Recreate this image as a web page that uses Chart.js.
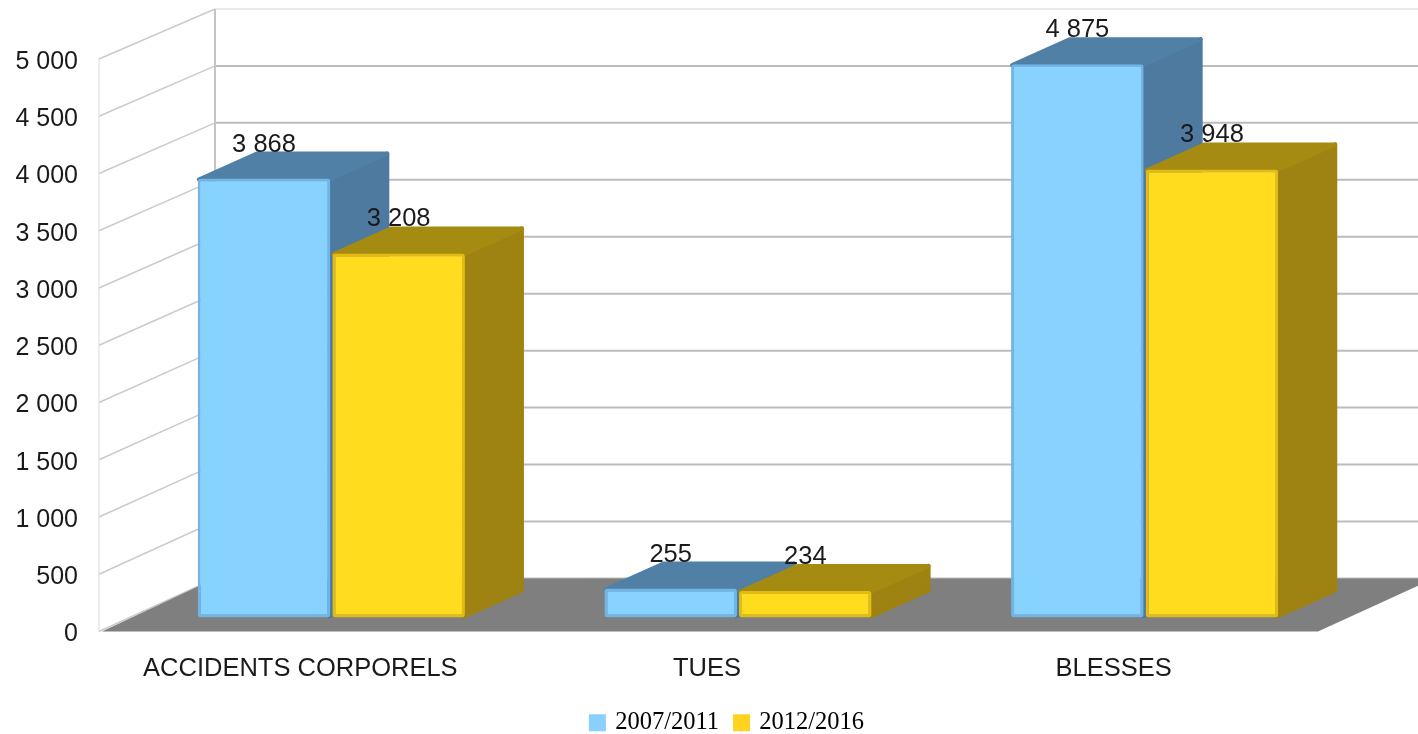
<!DOCTYPE html>
<html lang="fr">
<head>
<meta charset="utf-8">
<title>Accidents corporels, tues, blesses</title>
<script src="https://cdn.jsdelivr.net/npm/chart.js@4/dist/chart.umd.min.js"></script>
<style>
    html, body { margin: 0; padding: 0; background: #fff; }
    #wrap { width: 1418px; height: 734px; overflow: hidden; }
</style>
</head>
<body>
<div id="wrap"><canvas id="chart"></canvas></div>
<script>
// donnees
const categories = ['ACCIDENTS CORPORELS', 'TUES', 'BLESSES'];
const seriesNames = ['2007/2011', '2012/2016'];
const values2007 = [3868, 255, 4875];
const values2012 = [3208, 234, 3948];

// couleurs : face, bord, dessus, cote
const blue = { front: '#87d2ff', edge: '#6fb5e6', top: '#5180a6', side: '#4e7a9f' };
const gold = { front: '#ffdc1e', edge: '#e2bb14', top: '#a68b12', side: '#9e8212' };

// decalage de la profondeur
const wallLeft = 99;
const wallBack = 215;
const barDepthX = 58;
const barDepthY = -26;

function spaced(value) {
    return String(value).replace(/\B(?=(\d{3})+$)/g, ' ');
}

function line(ctx, x1, y1, x2, y2, color, width) {
    ctx.strokeStyle = color;
    ctx.lineWidth = width;
    ctx.beginPath();
    ctx.moveTo(x1, y1);
    ctx.lineTo(x2, y2);
    ctx.stroke();
}

function poly(ctx, pts, color) {
    ctx.fillStyle = color;
    ctx.strokeStyle = color;
    ctx.lineWidth = 4;
    ctx.lineJoin = 'round';
    ctx.beginPath();
    pts.forEach((p, i) => i ? ctx.lineTo(p[0], p[1]) : ctx.moveTo(p[0], p[1]));
    ctx.closePath();
    ctx.fill();
    ctx.stroke();
}

// parois, sol et volumes des barres
const scene3d = {
    id: 'scene3d',
    afterLayout(chart) {
        // legende decalee : elle n'est pas centree sur le canvas
        chart.legend.left += 54;
        chart.legend.right += 54;
        chart.legend.top += 11;
        chart.legend.bottom += 11;
    },
    beforeDatasetsDraw(chart) {
        const ctx = chart.ctx;
        const y = chart.scales.y;
        const back = chart.scales.yBack;
        const width = chart.width;
        const topBack = back.getPixelForValue(y.max);
        const zeroBack = back.getPixelForValue(0);
        const zeroFront = y.getPixelForValue(0);
        ctx.save();
        y.ticks.forEach((t) => {
            const fy = y.getPixelForValue(t.value);
            const by = back.getPixelForValue(t.value);
            line(ctx, wallLeft, fy, wallBack, by, '#cbcbcb', 1.5);
            line(ctx, wallBack, by, width, by, t.value === y.max ? '#ebebeb' : '#bcbcbc', 2);
        });
        line(ctx, wallLeft, y.getPixelForValue(y.max), wallLeft, zeroFront, '#d9d9d9', 1);
        line(ctx, wallBack, topBack, wallBack, zeroBack, '#c4c4c4', 2);

        ctx.fillStyle = '#7f7f7f';
        ctx.beginPath();
        ctx.moveTo(wallLeft + 3, zeroFront);
        ctx.lineTo(1318, zeroFront);
        ctx.lineTo(1318 + wallBack - wallLeft, zeroBack);
        ctx.lineTo(wallBack, zeroBack);
        ctx.closePath();
        ctx.fill();

        [blue, gold].forEach((c, i) => {
            chart.getDatasetMeta(i).data.forEach((bar) => {
                const l = bar.x - bar.width / 2 + 1;
                const r = bar.x + bar.width / 2 - 1;
                const t = bar.y + 1;
                const b = bar.base - 1;
                poly(ctx, [[r, t], [r + barDepthX, t + barDepthY], [r + barDepthX, b + barDepthY], [r, b]], c.side);
                poly(ctx, [[l, t], [l + barDepthX, t + barDepthY], [r + barDepthX, t + barDepthY], [r, t]], c.top);
            });
        });
        ctx.restore();
    },
    afterDatasetsDraw(chart) {
        const ctx = chart.ctx;
        ctx.save();
        ctx.fillStyle = '#1a1a1a';
        ctx.font = '25.5px "Liberation Sans"';
        ctx.textAlign = 'center';
        ctx.textBaseline = 'middle';
        chart.data.datasets.forEach((ds, i) => {
            chart.getDatasetMeta(i).data.forEach((bar, j) => {
                ctx.fillText(spaced(ds.data[j]), bar.x, bar.y - 34);
            });
        });
        ctx.restore();
    }
};

function makeDataset(name, data, c) {
    return {
        label: name,
        data: data,
        yAxisID: 'yBars',
        backgroundColor: c.front,
        borderColor: c.edge,
        borderWidth: 3,
        borderRadius: 3,
        borderSkipped: false,
        categoryPercentage: 0.662,
        barPercentage: 0.985
    };
}

new Chart(document.getElementById('chart'), {
    type: 'bar',
    data: {
        labels: categories,
        datasets: [
            makeDataset(seriesNames[0], values2007, blue),
            makeDataset(seriesNames[1], values2012, gold)
        ]
    },
    plugins: [scene3d],
    options: {
        responsive: true,
        maintainAspectRatio: false,
        animation: false,
        layout: { padding: { left: 0, right: 70, top: 59, bottom: 0 } },
        plugins: {
            tooltip: { enabled: false },
            legend: {
                position: 'bottom',
                labels: {
                    color: '#1a1a1a',
                    font: { family: '"Liberation Serif"', size: 24.5 },
                    boxWidth: 11,
                    boxHeight: 11,
                    padding: 17,
                    generateLabels(chart) {
                        return chart.data.datasets.map((ds, i) => ({
                            text: ds.label,
                            fillStyle: i ? '#ffd320' : '#8ad0ff',
                            strokeStyle: i ? '#ffd320' : '#8ad0ff',
                            lineWidth: 6,
                            datasetIndex: i
                        }));
                    }
                }
            }
        },
        scales: {
            x: {
                grid: { display: false },
                border: { display: false },
                afterFit(scale) { scale.height = 51; },
                ticks: {
                    color: '#1a1a1a',
                    font: { family: '"Liberation Sans"', size: 25.5 },
                    padding: 14,
                    labelOffset: -31,
                    autoSkip: false,
                    maxRotation: 0
                }
            },
            y: {
                min: 0,
                max: 5000,
                grid: { display: false },
                border: { display: false },
                afterFit(scale) {
                    scale.width = 128;
                    scale.paddingTop = 0;
                    scale.paddingBottom = 0;
                },
                ticks: {
                    color: '#1a1a1a',
                    font: { family: '"Liberation Sans"', size: 25 },
                    stepSize: 500,
                    padding: 42,
                    labelOffset: 3,
                    callback: (value) => spaced(value)
                }
            },
            // echelle des barres, posees un peu en retrait du sol
            yBars: { display: false, min: -123.5, max: 4920.6 },
            // echelle de la paroi du fond
            yBack: { display: false, min: -465.7, max: 4560.7 }
        }
    }
});
</script>
</body>
</html>
